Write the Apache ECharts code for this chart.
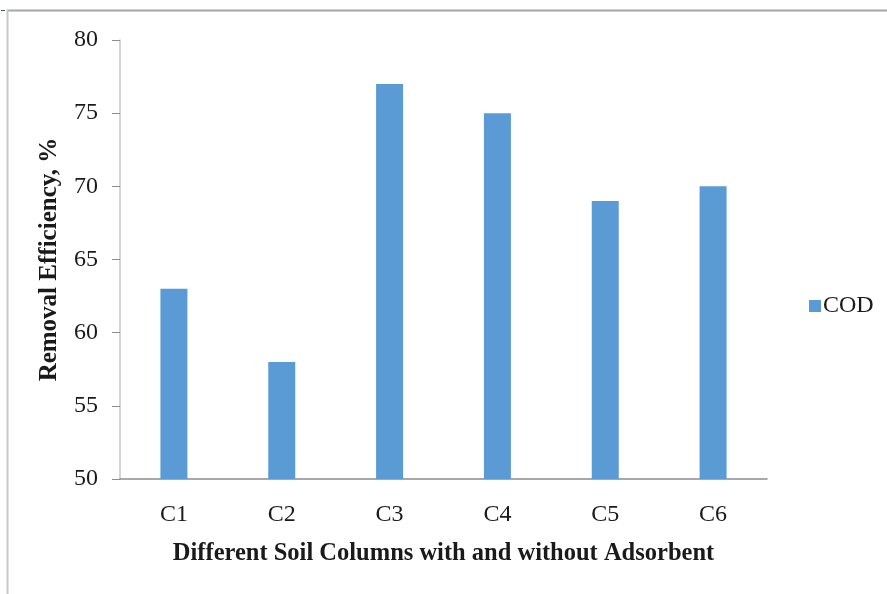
<!DOCTYPE html>
<html>
<head>
<meta charset="utf-8">
<script src="https://cdn.jsdelivr.net/npm/echarts@6/dist/echarts.min.js"></script>
<style>
  html, body { margin: 0; padding: 0; background: #ffffff; }
  #chart { width: 887px; height: 594px; }
</style>
</head>
<body>
<div id="chart"></div>
<script>
// Soil column labels and COD removal efficiency (%)
const categories = ['C1', 'C2', 'C3', 'C4', 'C5', 'C6'];
const codRemoval = [63, 58, 77, 75, 69, 70];
const yTicks = { min: 50, max: 80, step: 5 };

const serif = '"Liberation Serif", "Times New Roman", serif';

const chart = echarts.init(document.getElementById('chart'), null, { renderer: 'canvas' });

chart.setOption({
  backgroundColor: '#ffffff',
  animation: false,
  graphic: [
    // outer frame (top and left edges)
    { type: 'line', shape: { x1: 7, y1: 10.5, x2: 887, y2: 10.5 }, style: { stroke: '#a6a6a6', lineWidth: 2 } },
    { type: 'line', shape: { x1: 7.5, y1: 10, x2: 7.5, y2: 594 }, style: { stroke: '#c8c8c8', lineWidth: 2 } },
    { type: 'line', shape: { x1: 1, y1: 10.5, x2: 5, y2: 10.5 }, style: { stroke: '#44546a', lineWidth: 1 } }
  ],
  grid: { left: 120, right: 120, top: 40, bottom: 115, containLabel: false },
  legend: {
    data: ['COD'],
    left: 804,
    top: 289,
    orient: 'vertical',
    icon: 'rect',
    itemWidth: 12,
    itemHeight: 12,
    itemGap: 4,
    textStyle: { fontFamily: serif, fontSize: 24, color: '#1a1a1a', padding: [0, 0, 0, -3] }
  },
  xAxis: {
    type: 'category',
    data: categories,
    name: 'Different Soil Columns with and without Adsorbent',
    nameLocation: 'middle',
    nameGap: 62,
    nameTextStyle: { fontFamily: serif, fontSize: 24.5, fontWeight: 'bold', color: '#1a1a1a' },
    axisLine: { show: true, lineStyle: { color: '#8c8c8c', width: 1.5 } },
    axisTick: { show: false },
    axisLabel: { fontFamily: serif, fontSize: 24, color: '#1a1a1a', margin: 24 }
  },
  yAxis: {
    type: 'value',
    min: yTicks.min,
    max: yTicks.max,
    interval: yTicks.step,
    name: 'Removal Efficiency, %',
    nameLocation: 'middle',
    nameGap: 58,
    nameRotate: 90,
    nameTextStyle: { fontFamily: serif, fontSize: 25, fontWeight: 'bold', color: '#1a1a1a' },
    axisLine: { show: true, lineStyle: { color: '#c6c6c6', width: 1.5 } },
    axisTick: { show: true, length: 8, lineStyle: { color: '#8c8c8c', width: 1 } },
    axisLabel: { fontFamily: serif, fontSize: 24, color: '#1a1a1a', margin: 22 },
    splitLine: { show: false }
  },
  series: [
    {
      name: 'COD',
      type: 'bar',
      data: codRemoval,
      barWidth: 27,
      itemStyle: { color: '#5b9bd5' }
    }
  ]
});
</script>
</body>
</html>
